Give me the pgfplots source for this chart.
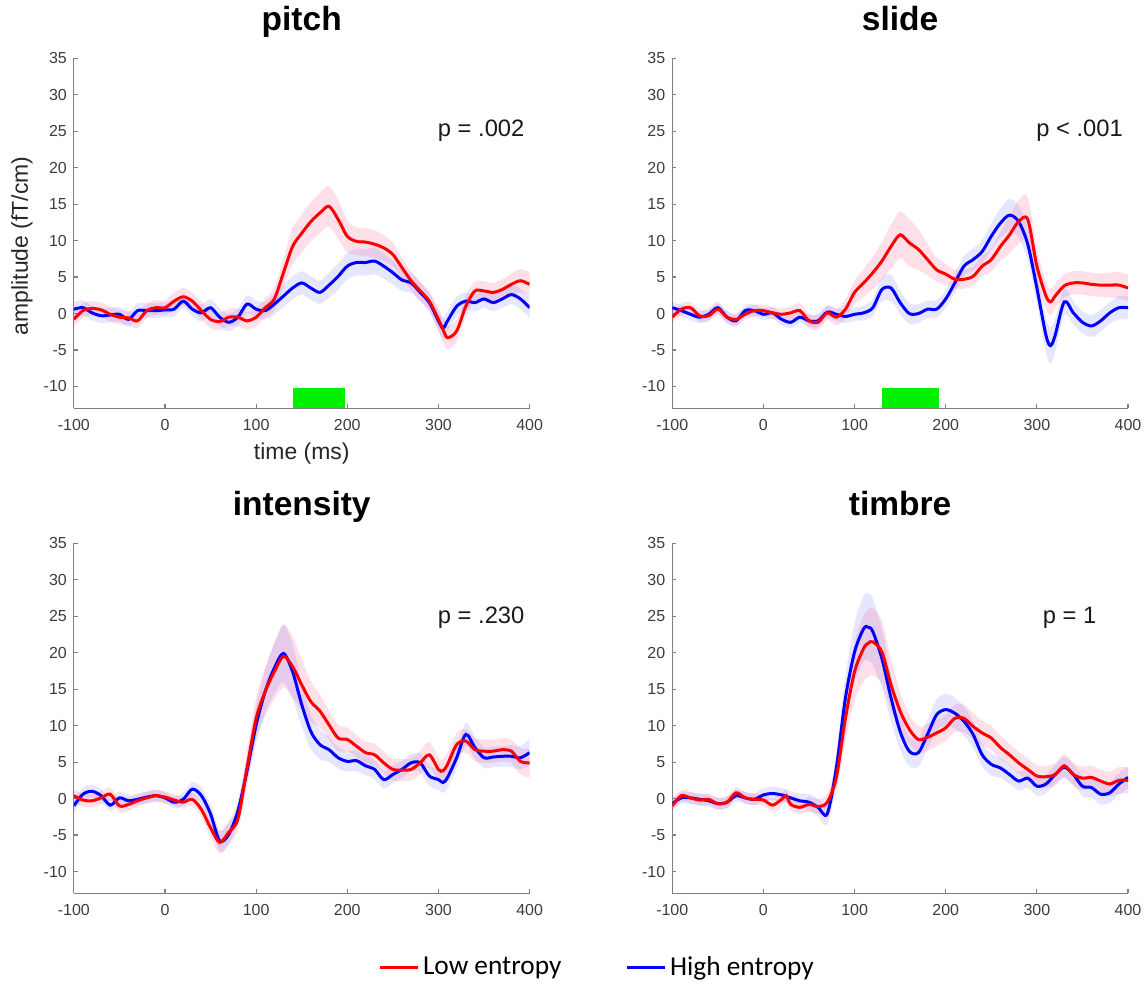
\documentclass[border=0pt]{standalone}
\usepackage{pgfplots}
\pgfplotsset{compat=1.18}
\usepackage{pgfplotstable}
\usepgfplotslibrary{fillbetween}
\usepackage{fontspec}
\setmainfont{Liberation Sans}
\newfontfamily\legendfont{Carlito}

\definecolor{axgray}{RGB}{128,128,128}
\definecolor{ticktext}{RGB}{60,60,60}
\definecolor{lowred}{RGB}{255,0,0}
\definecolor{highblue}{RGB}{0,0,255}
\definecolor{bandred}{RGB}{255,80,130}
\definecolor{bandblue}{RGB}{80,80,255}
\definecolor{siggreen}{RGB}{0,240,0}

% columns: x, low-entropy mean, low half-band, high-entropy mean, high half-band
\pgfplotstableread{
x yr er yb eb
-100 -0.8 1.0 0.6 1.0
-90 0.4 1.0 0.8 1.0
-80 0.7 1.0 0.1 1.0
-70 0.5 1.0 -0.3 1.0
-60 -0.1 1.0 -0.2 1.0
-50 -0.5 1.0 -0.1 1.0
-40 -0.6 1.0 -0.8 1.0
-30 -1.0 1.0 0.4 1.0
-20 0.4 1.0 0.4 1.0
-10 0.8 1.0 0.4 1.0
0 0.8 1.0 0.5 1.0
10 1.7 1.2 0.6 1.0
20 2.3 1.2 1.7 1.0
30 1.7 1.2 0.6 1.0
40 0.4 1.2 0.1 1.2
50 -0.8 1.2 0.8 1.2
60 -1.1 1.2 -0.5 1.2
70 -0.5 1.2 -1.2 1.2
80 -0.5 1.2 -0.5 1.2
90 -1.0 1.2 1.3 1.2
100 -0.5 1.2 0.6 1.2
110 0.8 1.3 0.4 1.2
120 2.0 1.6 1.3 1.4
130 5.6 2.0 2.4 1.5
140 9.2 2.5 3.5 1.6
150 11.0 2.6 4.2 1.6
160 12.6 2.7 3.5 1.6
170 13.8 2.8 2.9 1.6
180 14.7 2.8 3.9 1.7
190 12.9 2.7 5.1 1.8
200 10.6 2.2 6.5 1.8
210 9.9 1.9 7.0 1.8
220 9.8 1.9 7.0 1.8
230 9.5 1.9 7.2 1.8
240 9.0 1.8 6.5 1.7
250 8.1 1.6 5.6 1.6
260 6.3 1.4 4.6 1.5
270 4.5 1.3 4.2 1.4
280 3.1 1.3 2.9 1.3
290 1.7 1.3 1.5 1.3
300 -0.8 1.5 -1.0 1.4
305 -2.2 1.6 -2.0 1.4
310 -3.3 1.6 -1.0 1.4
320 -2.4 1.5 1.0 1.3
330 1.0 1.4 1.7 1.2
340 3.1 1.3 1.5 1.2
350 3.1 1.3 2.0 1.2
360 2.9 1.3 1.5 1.2
370 3.3 1.4 2.0 1.2
380 4.0 1.5 2.6 1.3
390 4.5 1.6 2.0 1.4
400 4.0 1.6 0.8 1.4
}\pitchdata

\pgfplotstableread{
x yr er yb eb
-100 -0.5 0.8 0.8 0.8
-90 0.6 0.8 0.4 0.8
-80 0.8 0.8 -0.1 0.8
-70 -0.3 0.8 -0.5 0.8
-60 -0.3 0.8 -0.1 0.8
-50 0.6 0.8 0.8 0.8
-40 -0.5 0.8 -0.5 0.8
-30 -0.8 0.8 -1.0 0.8
-20 -0.1 0.8 0.4 0.8
-10 0.4 0.8 0.4 0.8
0 0.4 0.8 -0.1 0.8
10 0.1 0.8 0.1 0.8
20 -0.1 0.8 -0.8 0.8
30 0.1 0.9 -1.2 0.8
40 0.4 1.0 -0.5 0.8
50 -1.0 1.0 -1.0 0.8
60 -1.2 1.0 -1.0 0.9
70 0.1 1.0 0.2 0.9
80 -0.5 1.1 -0.1 0.9
90 0.6 1.3 -0.4 0.9
100 2.9 1.6 -0.1 0.9
110 4.2 1.9 0.1 1.0
120 5.6 2.2 0.8 1.2
130 7.2 2.6 3.3 1.6
140 9.2 3.0 3.5 1.8
150 10.8 3.2 1.5 1.6
160 9.7 3.2 0.0 1.4
170 8.8 2.8 0.0 1.3
180 7.4 2.2 0.6 1.2
190 6.0 1.6 0.6 1.2
200 5.4 1.4 2.0 1.2
210 4.7 1.3 4.2 1.3
220 4.7 1.3 6.5 1.4
230 5.1 1.3 7.4 1.5
240 6.5 1.4 8.5 1.6
250 7.4 1.6 10.6 1.8
260 9.2 2.0 12.4 2.0
270 10.8 2.5 13.5 2.2
280 12.6 3.0 12.6 2.2
290 12.9 3.0 9.5 2.2
300 6.5 2.4 3.5 2.2
310 2.4 1.8 -3.0 2.4
315 1.6 1.8 -4.4 2.5
320 2.4 1.7 -3.0 2.2
330 3.8 1.6 1.6 1.8
340 4.2 1.6 0.1 1.6
350 4.2 1.6 -1.2 1.5
360 4.0 1.6 -1.7 1.5
370 3.9 1.6 -1.0 1.5
380 3.9 1.7 0.1 1.5
390 3.9 1.8 0.8 1.6
400 3.5 1.8 0.8 1.6
}\slidedata

\pgfplotstableread{
x yr er yb eb
-100 0.4 0.9 -1.0 0.9
-90 -0.2 0.9 0.6 0.9
-80 -0.3 0.9 1.0 0.9
-70 0.1 0.9 0.4 0.9
-60 0.6 0.9 -0.9 0.9
-50 -1.0 0.9 0.1 0.9
-40 -0.8 0.9 -0.3 0.8
-30 -0.3 0.8 -0.1 0.8
-20 0.1 0.8 0.2 0.8
-10 0.4 0.8 0.4 0.8
0 0.2 0.8 0.1 0.8
10 -0.2 0.8 -0.5 0.8
20 -0.5 0.8 -0.1 0.9
30 -0.1 0.9 1.3 1.0
40 -1.5 1.0 0.4 1.1
50 -4.0 1.3 -2.1 1.3
60 -6.0 1.5 -5.8 1.5
70 -4.6 1.5 -4.9 1.5
80 -2.8 1.6 -1.7 1.5
90 4.2 2.2 3.8 2.0
100 11.0 2.8 10.1 2.5
110 14.7 3.3 14.7 3.0
120 17.4 3.8 17.9 3.5
130 19.5 4.3 19.9 4.0
140 18.1 4.2 17.4 3.8
150 15.6 3.5 12.9 3.0
160 13.3 2.8 9.2 2.4
170 12.0 2.3 7.4 2.0
180 10.1 2.0 6.7 1.7
190 8.3 1.8 5.6 1.5
200 8.1 1.6 5.1 1.4
210 7.2 1.5 5.2 1.4
220 6.3 1.5 4.5 1.3
230 6.0 1.5 4.0 1.3
240 4.9 1.5 2.6 1.2
250 4.0 1.5 3.3 1.2
260 3.9 1.5 4.0 1.2
270 4.0 1.5 4.9 1.2
280 4.9 1.6 4.9 1.3
290 6.0 1.8 3.1 1.4
300 4.0 1.6 2.6 1.4
305 3.8 1.6 2.2 1.4
310 4.7 1.6 2.9 1.4
320 7.4 1.6 5.6 1.5
330 7.9 1.6 8.8 1.6
340 6.7 1.6 7.0 1.5
350 6.5 1.6 5.6 1.4
360 6.5 1.6 5.7 1.4
370 6.7 1.6 5.8 1.4
380 6.5 1.6 5.8 1.5
390 5.1 1.8 5.6 1.6
400 4.9 2.0 6.3 1.8
}\intensitydata

\pgfplotstableread{
x yr er yb eb
-100 -1.0 0.8 -0.7 0.8
-90 0.4 0.8 0.1 0.8
-80 0.1 0.8 0.1 0.8
-70 -0.2 0.8 -0.1 0.8
-60 -0.1 0.8 -0.3 0.8
-50 -0.7 0.8 -0.7 0.8
-40 -0.5 0.8 -0.5 0.8
-30 0.8 0.8 0.4 0.8
-20 0.1 0.8 0.1 0.8
-10 -0.1 0.8 -0.1 0.8
0 -0.2 0.8 0.5 0.9
10 -0.9 0.9 0.7 0.9
20 -0.1 0.9 0.5 0.9
25 0.4 0.9 0.3 0.9
30 -0.8 0.9 0.1 0.9
40 -1.2 0.9 -0.3 1.0
50 -0.8 1.0 -0.5 1.1
60 -1.1 1.0 -1.2 1.2
70 -0.5 1.2 -2.1 1.5
80 2.9 1.8 4.2 2.0
90 11.0 3.0 13.8 3.0
100 17.4 4.0 20.1 4.0
110 20.6 4.5 23.3 4.5
115 21.3 4.6 23.5 4.6
120 21.5 4.6 22.9 4.5
130 20.1 4.3 19.2 4.0
140 15.6 3.5 13.8 3.2
150 12.0 2.6 9.2 2.5
160 9.5 2.0 6.5 2.0
170 8.1 1.8 6.3 1.9
180 8.4 1.8 8.8 2.0
190 9.0 1.8 11.5 2.1
200 9.7 1.8 12.2 2.2
210 11.0 1.9 11.7 2.1
220 11.0 1.9 10.6 2.0
230 9.9 1.8 8.8 1.8
240 9.0 1.7 6.0 1.6
250 8.3 1.6 4.7 1.5
260 7.0 1.6 4.2 1.4
270 6.0 1.5 3.3 1.3
280 4.9 1.5 2.4 1.3
290 4.0 1.5 2.8 1.3
300 3.1 1.5 1.7 1.3
310 3.0 1.5 2.0 1.3
320 3.3 1.5 3.3 1.3
330 4.5 1.6 4.3 1.4
340 3.3 1.6 3.3 1.4
350 2.8 1.6 1.7 1.4
360 2.9 1.6 1.5 1.4
370 2.4 1.6 0.6 1.4
380 2.0 1.7 0.8 1.4
390 2.5 1.8 2.0 1.5
400 2.5 1.8 2.9 1.5
}\timbredata

\pgfplotsset{
  panel/.style={
    scale only axis, width=228.5pt, height=175.5pt,
    xmin=-100, xmax=400, ymin=-13, ymax=35,
    xtick={-100,0,...,400}, ytick={-10,-5,...,35},
    axis lines*=left,
    axis line style={axgray, line width=0.6pt, -},
    tick align=inside, major tick length=2pt,
    tick style={axgray, line width=0.6pt},
    tick label style={font=\fontsize{8}{9.6}\selectfont, text=ticktext},
    xticklabel style={yshift=-2pt},
    /pgf/number format/assume math mode=true,
    title style={font=\bfseries\fontsize{16.8}{19}\selectfont, at={(axis description cs:0.5,1.044)}, anchor=base},
    label style={font=\fontsize{11.5}{14}\selectfont, text=black!85},
  },
}
\tikzset{pnote/.style={anchor=base east, font=\fontsize{11.9}{14}\selectfont, text=black!90}}

\newcommand{\drawpanel}[1]{%
  \addplot[name path=ru, draw=none, smooth, forget plot] table[x=x, y expr=\thisrow{yr}+\thisrow{er}] {#1};
  \addplot[name path=rl, draw=none, smooth, forget plot] table[x=x, y expr=\thisrow{yr}-\thisrow{er}] {#1};
  \addplot[bandred, fill opacity=0.18, draw=none, forget plot] fill between[of=ru and rl];
  \addplot[name path=bu, draw=none, smooth, forget plot] table[x=x, y expr=\thisrow{yb}+\thisrow{eb}] {#1};
  \addplot[name path=bl, draw=none, smooth, forget plot] table[x=x, y expr=\thisrow{yb}-\thisrow{eb}] {#1};
  \addplot[bandblue, fill opacity=0.14, draw=none, forget plot] fill between[of=bu and bl];
  \addplot[highblue, line width=1.5pt, smooth, forget plot] table[x=x, y=yb] {#1};
  \addplot[lowred, line width=1.5pt, smooth, forget plot] table[x=x, y=yr] {#1};
}

\begin{document}
\begin{tikzpicture}

% pitch
\begin{axis}[panel, at={(37pt,288pt)}, anchor=south west, title={pitch},
  xlabel={time (ms)}, ylabel={amplitude (fT/cm)},
  xlabel style={at={(axis description cs:0.5,-0.129)}, anchor=center},
  ylabel style={at={(axis description cs:-0.114,0.464)}, anchor=center}]
  \addplot[draw=none, fill=siggreen, forget plot] coordinates {(140,-13) (198,-13) (198,-10.2) (140,-10.2)} -- cycle;
  \drawpanel{\pitchdata}
  \node[pnote] at (axis cs:402,24.3) {p = .002};
\end{axis}

% slide
\begin{axis}[panel, at={(337pt,288pt)}, anchor=south west, title={slide}]
  \addplot[draw=none, fill=siggreen, forget plot] coordinates {(130,-13) (193,-13) (193,-10.2) (130,-10.2)} -- cycle;
  \drawpanel{\slidedata}
  \node[pnote] at (axis cs:402,24.3) {p < .001};
\end{axis}

% intensity
\begin{axis}[panel, at={(37pt,44.85pt)}, anchor=south west, title={intensity},
  legend columns=2,
  legend style={at={(axis description cs:1.150,-0.2106)}, anchor=center, draw=none, fill=none,
    font=\legendfont\fontsize{13.7}{16}\selectfont,
    /tikz/every even column/.append style={column sep=30pt}},
  legend image code/.code={\draw[#1] (0pt,0pt) -- (19pt,0pt);}]
  \drawpanel{\intensitydata}
  \addlegendimage{lowred, line width=1.5pt}
  \addlegendentry{Low entropy}
  \addlegendimage{highblue, line width=1.5pt}
  \addlegendentry{High entropy}
  \node[pnote] at (axis cs:402,24.0) {p = .230};
\end{axis}

% timbre
\begin{axis}[panel, at={(337pt,44.85pt)}, anchor=south west, title={timbre}]
  \drawpanel{\timbredata}
  \node[pnote] at (axis cs:373,24.0) {p = 1};
\end{axis}

\path (0pt,0pt) rectangle (574pt,489.5pt);
\end{tikzpicture}
\end{document}
